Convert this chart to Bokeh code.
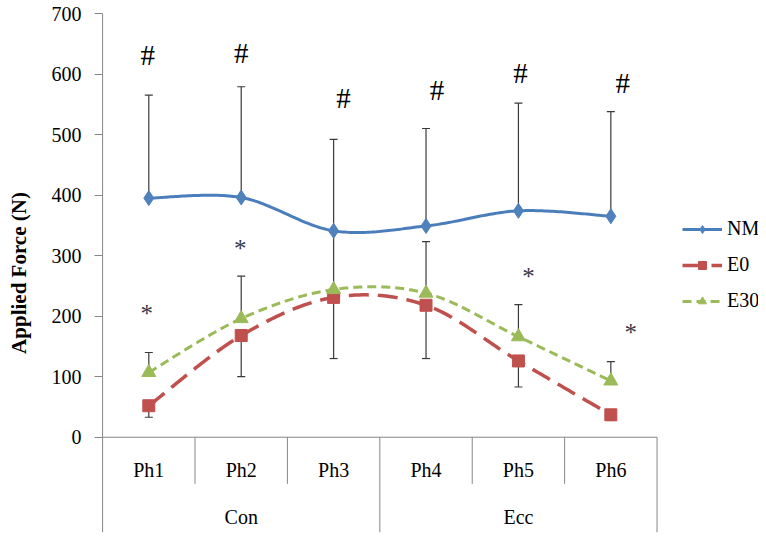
import numpy as np
from bokeh.plotting import figure
from bokeh.models import Range1d, FixedTicker, Legend, LegendItem
from bokeh.core.properties import value
from bokeh.embed import file_html
from bokeh.resources import INLINE

# ---------------- data ----------------
phases = ["Ph1", "Ph2", "Ph3", "Ph4", "Ph5", "Ph6"]
groups = ["Con", "Ecc"]
group_size = [3, 3]

nm = [395, 396, 341, 349, 374, 365]
nm_err_upper = [565, 579, 492, 510, 552, 538]

e0 = [52, 168, 231, 218, 126, 37]
e0_err_lower = [33, 100, 130, 130, 83, 28]

e30 = [107, 196, 244, 238, 166, 93]
e30_err_upper = [140, 266, 338, 323, 219, 125]

hash_y = [631, 634, 560, 573, 601, 586]
star_phases = ["Ph1", "Ph2", "Ph5", "Ph6"]
star_y = [213, 320, 274, 181]

y_ticks = [0, 100, 200, 300, 400, 500, 600, 700]

# style offsets (pixels)
hash_dx = [-1, 0, 10, 11, 2, 12]
star_dx = [-2, -1, 10, 20]

FONT = "Liberation Serif"
FONT_CSS = "'Liberation Serif', serif"
AXIS_C = "#868686"
BAR_C = "#3a3a3a"

Y0, Y1 = -157.4, 700
LBL_Y, GRP_Y, SEP_Y = -53.4, -132.6, -77.0

xc = np.arange(len(phases)) + 0.5
star_x = [phases.index(s) + 0.5 for s in star_phases]


def smooth(xs, ys, n=40):
    P = np.column_stack([np.asarray(xs, float), np.asarray(ys, float)])
    m = len(P)
    out = []
    for i in range(m - 1):
        p0 = P[max(i - 1, 0)]
        p1 = P[i]
        p2 = P[i + 1]
        p3 = P[min(i + 2, m - 1)]
        c1 = p1 + (p2 - p0) / 6.0
        c2 = p2 - (p3 - p1) / 6.0
        t = np.linspace(0, 1, n)[:, None]
        seg = ((1 - t) ** 3) * p1 + 3 * ((1 - t) ** 2) * t * c1 + 3 * (1 - t) * t ** 2 * c2 + t ** 3 * p2
        out.append(seg if i == 0 else seg[1:])
    out = np.vstack(out)
    return out[:, 0], out[:, 1]


W, H = 766, 540
p = figure(width=W, height=H,
           x_range=Range1d(-0.012, 7.098), y_range=Range1d(Y0, Y1),
           output_backend="svg", toolbar_location=None,
           x_axis_location=None,
           min_border_left=101, min_border_right=8,
           min_border_top=13, min_border_bottom=8)
p.grid.visible = False
p.outline_line_color = None
p.background_fill_color = "white"

ax = p.yaxis[0]
ax.ticker = FixedTicker(ticks=y_ticks)
ax.bounds = (-50, 700)
ax.minor_tick_line_color = None
ax.major_tick_in = 1
ax.major_tick_out = 7
ax.axis_line_color = None
ax.major_tick_line_color = AXIS_C
ax.major_label_text_font = FONT_CSS
ax.major_label_text_font_size = "20px"
ax.major_label_text_color = "black"
ax.major_label_standoff = 13
ax.axis_label = "Applied Force (N)"
ax.axis_label_text_font = FONT_CSS
ax.axis_label_text_font_size = "21px"
ax.axis_label_text_font_style = "bold"
ax.axis_label_text_color = "black"
ax.axis_label_standoff = 18

# ---- category axis drawn in data space ----
n = len(phases)
p.segment(x0=[0], y0=[Y0], x1=[0], y1=[Y1], line_color=AXIS_C, line_width=1)
p.segment(x0=[0], y0=[0], x1=[n], y1=[0], line_color=AXIS_C, line_width=1)
bounds = np.cumsum(group_size)
short_sep = [i for i in range(1, n) if i not in bounds]
long_sep = list(bounds)
p.segment(x0=short_sep, y0=[0] * len(short_sep), x1=short_sep, y1=[SEP_Y] * len(short_sep),
          line_color=AXIS_C, line_width=1)
p.segment(x0=long_sep, y0=[0] * len(long_sep), x1=long_sep, y1=[Y0] * len(long_sep),
          line_color=AXIS_C, line_width=1)
p.text(x=xc, y=[LBL_Y] * n, text=phases, text_font=value(FONT), text_font_size="20px",
       text_align="center", text_baseline="middle", text_color="black")
gstart = np.concatenate([[0], bounds[:-1]])
gx = (gstart + bounds) / 2.0
p.text(x=gx, y=[GRP_Y] * len(groups), text=groups, text_font=value(FONT), text_font_size="20px",
       text_align="center", text_baseline="middle", text_color="black")

# ---- error bars ----
p.segment(x0=xc, y0=nm, x1=xc, y1=nm_err_upper, line_color=BAR_C, line_width=1.2)
p.scatter(xc, nm_err_upper, marker="dash", size=8, line_color=BAR_C, line_width=1.2)
p.segment(x0=xc, y0=e0, x1=xc, y1=e0_err_lower, line_color=BAR_C, line_width=1.2)
p.scatter(xc, e0_err_lower, marker="dash", size=8, line_color=BAR_C, line_width=1.2)
p.segment(x0=xc, y0=e30, x1=xc, y1=e30_err_upper, line_color=BAR_C, line_width=1.2)
p.scatter(xc, e30_err_upper, marker="dash", size=8, line_color=BAR_C, line_width=1.2)

# ---- series ----
NM_C, E0_C, E30_C = "#4A7EBB", "#C0504D", "#9BBB59"
sx, sy = smooth(xc, nm)
l_nm = p.line(sx, sy, line_color=NM_C, line_width=3)
sx, sy = smooth(xc, e0)
l_e0 = p.line(sx, sy, line_color=E0_C, line_width=3.5, line_dash="20 9")
sx, sy = smooth(xc, e30)
l_e30 = p.line(sx, sy, line_color=E30_C, line_width=3, line_dash="9 5")

m_nm = p.scatter(xc, nm, marker="diamond", size=15, fill_color="#4F81BD", line_color="#4F81BD")
m_e0 = p.scatter(xc, e0, marker="square", size=12, fill_color=E0_C, line_color=E0_C)
m_e30 = p.scatter(xc, e30, marker="triangle", size=14, fill_color=E30_C, line_color=E30_C)

# ---- significance marks ----
p.text(x=xc, y=hash_y, text=["#"] * n, x_offset=hash_dx, text_font=value(FONT),
       text_font_size="29px", text_align="center", text_baseline="middle", text_color="black")
p.text(x=star_x, y=star_y, text=["*"] * len(star_x), x_offset=star_dx, y_offset=5,
       text_font=value(FONT), text_font_size="25px", text_align="center",
       text_baseline="middle", text_color="#3A3B4A")

legend = Legend(items=[LegendItem(label="NM", renderers=[l_nm, m_nm]),
                       LegendItem(label="E0", renderers=[l_e0, m_e0]),
                       LegendItem(label="E30", renderers=[l_e30, m_e30])],
                location=(581, 220), padding=0, margin=0,
                glyph_width=40, glyph_height=20, label_height=20, spacing=13,
                label_standoff=5, label_text_font=FONT_CSS, label_text_font_size="20px",
                label_text_color="black", border_line_color=None, background_fill_alpha=0)
p.add_layout(legend)

open("out.html", "w").write(file_html(p, INLINE))
